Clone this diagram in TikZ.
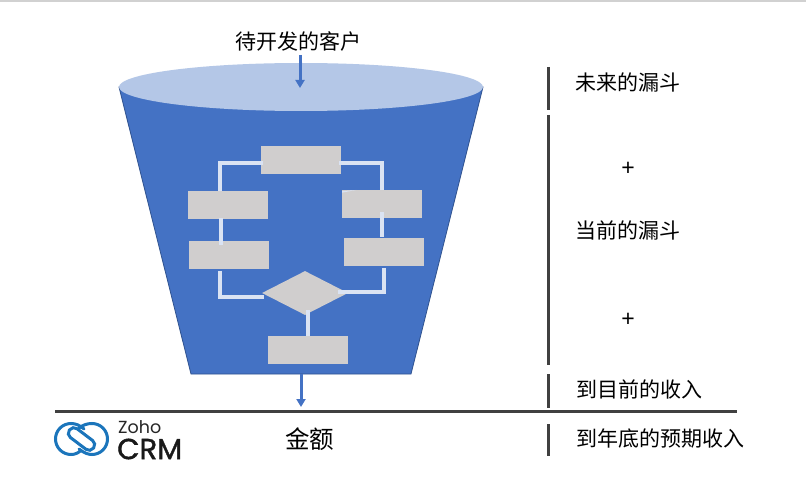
\documentclass[tikz,border=0pt]{standalone}
\usepackage{fontspec}
\setmainfont{Noto Sans CJK SC}
\newfontfamily\logofont{Poppins}
\newfontfamily\logofontb[FakeBold=1.4]{Poppins}
\newfontfamily\plusfont{Liberation Sans}
\usetikzlibrary{shapes.geometric,arrows.meta}
\definecolor{fblue}{HTML}{4472C4}
\definecolor{fedge}{HTML}{2F528F}
\definecolor{ftop}{HTML}{B4C7E7}
\definecolor{bgrey}{HTML}{D0CECE}
\definecolor{wire}{HTML}{DAE3F3}
\definecolor{rule}{HTML}{404040}
\definecolor{zblue}{HTML}{1B75BB}
\tikzset{
  stepbox/.style={fill=bgrey,draw=none,minimum width=80pt,minimum height=28pt,inner sep=0pt,outer sep=0pt},
  wireline/.style={draw=wire,line width=4pt},
  flow/.style={draw=fblue,line width=3pt,-{Triangle[length=8pt,width=9pt]}},
  sidebar/.style={draw=rule,line width=3pt},
  lab/.style={inner sep=0pt,font=\fontsize{21}{25}\selectfont,text=black},
  labbig/.style={inner sep=0pt,font=\fontsize{24.5}{28}\selectfont,text=black},
  plussign/.style={inner sep=0pt,font=\plusfont\fontsize{23}{25}\selectfont,text=black}
}
\begin{document}
\begin{tikzpicture}[x=1pt,y=-1pt]
\useasboundingbox (0,0) rectangle (806,478);
\fill[white] (0,0) rectangle (806,478);
\fill[black!18] (0,0) rectangle (806,2);
% funnel
\draw[fill=fblue,draw=fedge,line width=0.8pt] (119,87) -- (191,374) -- (411,374) -- (483,87) -- cycle;
\node[ellipse,fill=ftop,draw=none,minimum width=364pt,minimum height=48pt,inner sep=0pt] (rim) at (301,87) {};
% flow boxes
\node[stepbox] (b0) at (301,160.5) {};
\node[stepbox] (l1) at (228,205) {};
\node[stepbox] (l2) at (229,255) {};
\node[stepbox] (r1) at (382,204) {};
\node[stepbox] (r2) at (384,252) {};
\node[diamond,aspect=1.95,fill=bgrey,draw=none,minimum width=86pt,minimum height=44pt,inner sep=0pt] (dm) at (305,293) {};
\node[stepbox] (b1) at (308,350) {};
% wires
\draw[wireline] ([xshift=2pt,yshift=-2.5pt]b0.west) -| ([xshift=-8pt]l1.north);
\draw[wireline] ([xshift=-2pt,yshift=-2.5pt]b0.east) -| (r1.north);
\draw[wireline] ([xshift=-7pt,yshift=1pt]l1.south) -- ([xshift=-8pt,yshift=-4pt]l2.north);
\draw[wireline] ([yshift=-8pt]r1.center) -- ([yshift=1pt]r1.center |- r2.north);
\draw[wireline] ([xshift=-9pt,yshift=-2pt]l2.south) |- ([xshift=2pt,yshift=-4pt]dm.west);
\draw[wireline] ([yshift=-2pt]r2.south) |- ([xshift=-10pt,yshift=1pt]dm.east);
\draw[wireline] ([xshift=3pt,yshift=5pt]dm.south) -- ([xshift=0pt]b1.north);
\fill[wire] (342,191.2) -- (356,190) -- (342,192.7) -- cycle;
% arrows
\coordinate (topin) at (300,55);
\coordinate (topout) at (300,88);
\draw[flow] (topin) -- (topout);
\coordinate (botin) at (301,374);
\coordinate (botout) at (301,407);
\draw[flow] (botin) -- (botout);
% rules
\coordinate (axl) at (55,411);
\coordinate (axr) at (737,411);
\draw[draw=rule,line width=3pt] (axl) -- (axr);
\coordinate (s1a) at (548,67); \coordinate (s1b) at (548,110);
\coordinate (s2a) at (548,115); \coordinate (s2b) at (548,365);
\coordinate (s3a) at (548,374); \coordinate (s3b) at (548,408);
\coordinate (s4a) at (548,424); \coordinate (s4b) at (548,456);
\draw[sidebar] (s1a) -- (s1b);
\draw[sidebar] (s2a) -- (s2b);
\draw[sidebar] (s3a) -- (s3b);
\draw[sidebar] (s4a) -- (s4b);
% labels
\node[lab] (t0) at (298.5,41) {待开发的客户};
\node[lab] (t1) at (628,82.5) {未来的漏斗};
\node[plussign] (p1) at (628,169) {+};
\node[lab] (t2) at (628,230) {当前的漏斗};
\node[plussign] (p2) at (628,320) {+};
\node[lab] (t3) at (639,389) {到目前的收入};
\node[lab] (t4) at (660,439) {到年底的预期收入};
\node[labbig] (t5) at (309.5,439) {金额};
% logo
\begin{scope}[draw=zblue,line width=3pt,line cap=round]
\draw (84,429) .. controls (80,425.5) and (76,423.5) .. (71,423.5) arc[start angle=-90,end angle=-270,radius=15.5] .. controls (75,454.5) and (78,453) .. (81,450.5);
\draw (79,428) .. controls (83,425) and (87,423.5) .. (92,423.5) arc[start angle=-90,end angle=90,radius=15.5] .. controls (88,454.5) and (84,453) .. (79,449);
\draw[rounded corners=5.2pt,shift={(81.5,439)},rotate=-37] (-15,-5.5) rectangle (15,5.5);
\end{scope}
\node[inner sep=0pt,anchor=west,font=\logofont\fontsize{17.5}{19}\selectfont,text=black!85] (zoho) at (118,427) {Zoho};
\node[inner sep=0pt,anchor=west,font=\logofontb\fontsize{29}{31}\selectfont,text=black!90] (crm) at (117,449) {CRM};
\end{tikzpicture}
\end{document}
